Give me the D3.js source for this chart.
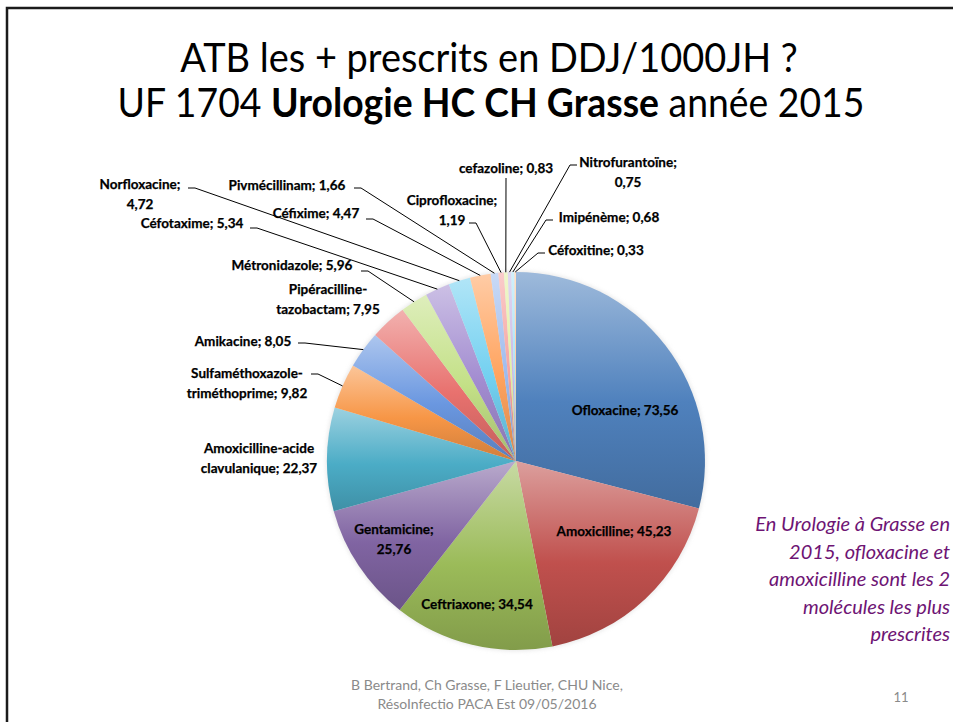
<!DOCTYPE html>
<html>
<head>
<meta charset="utf-8">
<script src="https://cdn.jsdelivr.net/npm/d3@7"></script>
<style>
  body { margin: 0; background: #fff; }
  svg { display: block; }
</style>
</head>
<body>
<script>
// DDJ/1000JH per antibiotic, in pie order (clockwise from 12 o'clock)
const drugs = [
  "Ofloxacine", "Amoxicilline", "Ceftriaxone", "Gentamicine",
  "Amoxicilline-acide clavulanique", "Sulfaméthoxazole-triméthoprime",
  "Amikacine", "Pipéracilline-tazobactam", "Métronidazole", "Céfotaxime",
  "Norfloxacine", "Céfixime", "Pivmécillinam", "Ciprofloxacine",
  "cefazoline", "Nitrofurantoïne", "Imipénème", "Céfoxitine"
];
const ddj = [73.56, 45.23, 34.54, 25.76, 22.37, 9.82, 8.05, 7.95, 5.96, 5.34,
             4.72, 4.47, 1.66, 1.19, 0.83, 0.75, 0.68, 0.33];
// how each label is broken into lines
const labelLines = [
  ["Ofloxacine; 73,56"], ["Amoxicilline; 45,23"], ["Ceftriaxone; 34,54"],
  ["Gentamicine;", "25,76"], ["Amoxicilline-acide", "clavulanique; 22,37"],
  ["Sulfaméthoxazole-", "triméthoprime; 9,82"], ["Amikacine; 8,05"],
  ["Pipéracilline-", "tazobactam; 7,95"], ["Métronidazole; 5,96"],
  ["Céfotaxime; 5,34"], ["Norfloxacine;", "4,72"], ["Céfixime; 4,47"],
  ["Pivmécillinam; 1,66"], ["Ciprofloxacine;", "1,19"], ["cefazoline; 0,83"],
  ["Nitrofurantoïne;", "0,75"], ["Imipénème; 0,68"], ["Céfoxitine; 0,33"]
];

const palette = ["#4F81BD", "#C0504D", "#9BBB59", "#8064A2", "#4BACC6", "#F79646",
                 "#6A97E0", "#E8716E", "#C3E086", "#A28CD0", "#72D0F0", "#FFA35E",
                 "#9DBBEE", "#F5A3A0", "#E2EFA3", "#C9B8E5", "#A9E4F7", "#FFC79A"];

// label layout: centre x, first line centre y, leader start (null = no leader)
const labelLayout = [
  {x: 625, y: 410, lead: null},
  {x: 614, y: 531, lead: null},
  {x: 477, y: 604, lead: null},
  {x: 394, y: 529, lead: null},
  {x: 259, y: 448, lead: null},
  {x: 247, y: 373, lead: [311, 374, 1]},
  {x: 243, y: 341, lead: [298, 343, 1]},
  {x: 328, y: 289, lead: null},
  {x: 292, y: 265, lead: [361, 271, 1]},
  {x: 192, y: 223, lead: [250, 228, 1]},
  {x: 140, y: 184, lead: [188, 188, 1]},
  {x: 316, y: 213, lead: [366, 219, 1]},
  {x: 287, y: 185, lead: [354, 188, 1]},
  {x: 452, y: 200, lead: [469, 223, 1]},
  {x: 506, y: 168, lead: [506, 178, 0]},
  {x: 628, y: 162, lead: [577, 165, -1]},
  {x: 609, y: 217, lead: [553, 220, -1]},
  {x: 596, y: 250, lead: [545, 253, -1]}
];

const W = 953, H = 722;
const cx = 516, cy = 461, R = 189;

const svg = d3.select("body").append("svg")
  .attr("width", W).attr("height", H);

// slide frame (left + top edges only)
svg.append("path")
  .attr("d", `M7,${H} V8 H${W}`)
  .attr("fill", "none")
  .attr("stroke", "#1b1b1b")
  .attr("stroke-width", 2.5);

// title: two lines, squeezed horizontally to the Calibri width
const titleFont = "Lato, 'Open Sans', sans-serif";
function titleLine(cxT, y, width, parts) {
  const g = svg.append("g");
  const t = g.append("text")
    .attr("text-anchor", "middle")
    .attr("font-family", titleFont).attr("font-size", 40);
  parts.forEach(p => t.append("tspan").attr("font-weight", p[1] ? "bold" : null).text(p[0]));
  const w = t.node().getComputedTextLength();
  g.attr("transform", `translate(${cxT},${y}) scale(${width / w},1)`);
}
titleLine(489, 72, 618, [["ATB les + prescrits en DDJ/1000JH ?", false]]);
titleLine(491, 117, 747, [["UF 1704 ", false], ["Urologie HC CH Grasse", true], [" année 2015", false]]);

// pie
const defs = svg.append("defs");
palette.forEach((c, i) => {
  const g = defs.append("linearGradient")
    .attr("id", "grad" + i)
    .attr("x1", 0).attr("y1", 0).attr("x2", 0).attr("y2", 1);
  g.append("stop").attr("offset", "0%").attr("stop-color", d3.interpolateRgb(c, "#fff")(0.45));
  g.append("stop").attr("offset", "55%").attr("stop-color", c);
  g.append("stop").attr("offset", "100%").attr("stop-color", d3.color(c).darker(0.5));
});

const f = defs.append("filter").attr("id", "soft")
  .attr("x", "-10%").attr("y", "-10%").attr("width", "120%").attr("height", "120%");
f.append("feGaussianBlur").attr("stdDeviation", 2);

const pie = d3.pie().sort(null).value(d => d)(ddj);
const arc = d3.arc().innerRadius(0).outerRadius(R);
const edge = d3.arc().innerRadius(R).outerRadius(R);

const pg = svg.append("g").attr("transform", `translate(${cx},${cy})`);

pg.append("circle").attr("r", R + 1)
  .attr("fill", "#d8d8d8").attr("opacity", 0.6)
  .attr("filter", "url(#soft)");

pg.selectAll("path.slice")
  .data(pie)
  .join("path")
    .attr("class", "slice")
    .attr("d", arc)
    .attr("fill", (d, i) => `url(#grad${i})`);

// leader lines
const leader = d3.line();
pie.forEach((d, i) => {
  const L = labelLayout[i];
  if (!L.lead) return;
  const [ex, ey] = edge.centroid(d);
  const [sx, sy, dir] = L.lead;
  const pts = dir === 0
    ? [[sx, sy], [cx + ex, cy + ey]]
    : [[sx, sy], [sx + dir * 7, sy], [cx + ex, cy + ey]];
  svg.append("path")
    .attr("d", leader(pts))
    .attr("fill", "none")
    .attr("stroke", "#000")
    .attr("stroke-width", 1);
});

// data labels
const labels = svg.append("g")
  .attr("font-family", "Lato, 'Open Sans', sans-serif")
  .attr("font-weight", "bold")
  .attr("font-size", 13.5)
  .attr("fill", "#000")
  .attr("stroke", "#000")
  .attr("stroke-width", 0.25)
  .attr("text-anchor", "middle");

labelLines.forEach((lines, i) => {
  const L = labelLayout[i];
  const t = labels.append("text").attr("x", L.x).attr("y", L.y);
  lines.forEach((s, j) => {
    t.append("tspan").attr("x", L.x).attr("dy", j === 0 ? "0.36em" : 20).text(s);
  });
});

// comment on the right
const note = ["En Urologie à Grasse en", "2015, ofloxacine et",
              "amoxicilline sont les 2", "molécules les plus", "prescrites"];
svg.append("g")
  .attr("font-family", "Lato, 'Open Sans', sans-serif")
  .attr("font-style", "italic")
  .attr("font-size", 20)
  .attr("fill", "#6E1474")
  .attr("text-anchor", "end")
  .selectAll("text")
  .data(note)
  .join("text")
    .attr("x", 950)
    .attr("y", (d, i) => 531 + i * 27.5)
    .text(d => d);

// footer
const foot = svg.append("g")
  .attr("font-family", "Lato, 'Open Sans', sans-serif")
  .attr("font-size", 14)
  .attr("fill", "#8a8a8a")
  .attr("text-anchor", "middle");
foot.append("text").attr("x", 487).attr("y", 690).text("B Bertrand, Ch Grasse, F Lieutier, CHU Nice,");
foot.append("text").attr("x", 487).attr("y", 709).text("RésoInfectio PACA Est 09/05/2016");
foot.append("text").attr("x", 901).attr("y", 702).attr("font-size", 13).text("11");
</script>
</body>
</html>
